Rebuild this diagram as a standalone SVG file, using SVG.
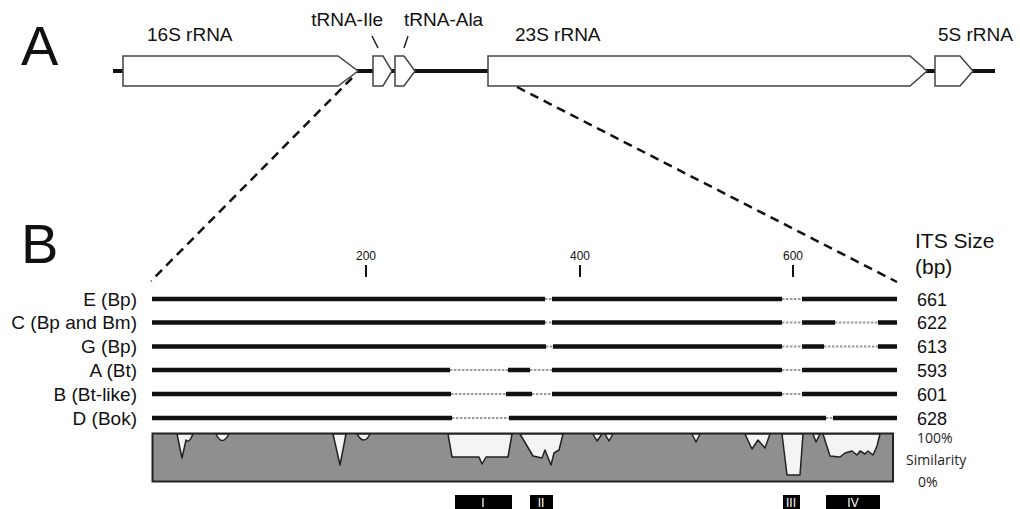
<svg xmlns="http://www.w3.org/2000/svg" width="1020" height="509" viewBox="0 0 1020 509">
<style>
text{font-family:"Liberation Sans",Arial,sans-serif;fill:#111}
.big{font-size:56px}
.lab{font-size:19px}
.num{font-size:18px}
.tick{font-size:12px}
.sim{font-family:"Open Sans","Liberation Sans",sans-serif;font-size:14px;fill:#222}
.box{fill:#fff;stroke:#444;stroke-width:1.5}
.solid{fill:none;stroke:#111;stroke-width:4.5}
.gap{fill:none;stroke:#999;stroke-width:2.2;stroke-dasharray:2.5 1.5}
.dash{fill:none;stroke:#111;stroke-width:2.5;stroke-dasharray:9 6}
.dip{fill:#f4f4f4;stroke:#222;stroke-width:1.5;stroke-linejoin:round}
.reg{fill:#000}
.rt{font-size:12px;fill:#fff;text-anchor:middle}
</style>
<rect width="1020" height="509" fill="#fff"/>

<g id="panelA">
  <text class="big" x="21" y="65">A</text>
  <line x1="113" y1="71" x2="995" y2="71" stroke="#111" stroke-width="4"/>
  <g id="n16S">
    <polygon class="box" points="123,56 338,56 358,71 338,86 123,86"/>
    <text class="lab" x="147" y="41">16S rRNA</text>
  </g>
  <g id="nIle">
    <polygon class="box" points="373,56 383,56 392,71 383,86 373,86"/>
    <text class="lab" x="383" y="26" text-anchor="end">tRNA-Ile</text>
    <line x1="372" y1="36" x2="378" y2="48" stroke="#222" stroke-width="1.5"/>
  </g>
  <g id="nAla">
    <polygon class="box" points="395,56 404,56 415,71 404,86 395,86"/>
    <text class="lab" x="404" y="26">tRNA-Ala</text>
    <line x1="408" y1="36" x2="404" y2="48" stroke="#222" stroke-width="1.5"/>
  </g>
  <g id="n23S">
    <polygon class="box" points="488,56 910,56 927,71 910,86 488,86"/>
    <text class="lab" x="515" y="41">23S rRNA</text>
  </g>
  <g id="n5S">
    <polygon class="box" points="935,56 960,56 973,71 960,86 935,86"/>
    <text class="lab" x="938" y="41">5S rRNA</text>
  </g>
</g>

<g id="connectors">
  <line class="dash" x1="352" y1="78" x2="151" y2="281"/>
  <line class="dash" x1="517" y1="87" x2="897" y2="282"/>
</g>

<g id="panelB">
  <text class="big" x="21" y="263">B</text>
  <g id="ticks">
    <line x1="366" y1="265" x2="366" y2="277" stroke="#111" stroke-width="2"/>
    <line x1="580" y1="265" x2="580" y2="277" stroke="#111" stroke-width="2"/>
    <line x1="793" y1="265" x2="793" y2="277" stroke="#111" stroke-width="2"/>
    <text class="tick" x="366" y="260" text-anchor="middle">200</text>
    <text class="tick" x="580" y="260" text-anchor="middle">400</text>
    <text class="tick" x="793" y="260" text-anchor="middle">600</text>
  </g>
  <text x="915" y="248" style="font-size:21px">ITS Size</text>
  <text x="915" y="274" style="font-size:21px">(bp)</text>

  <g id="rowE">
    <text class="lab" x="137" y="305.5" text-anchor="end">E (Bp)</text>
    <path class="solid" d="M152,299H545M552,299H782M802,299H897"/>
    <path class="gap" d="M545,299H552M782,299H802"/>
    <text class="num" x="917" y="305.5">661</text>
  </g>
  <g id="rowC">
    <text class="lab" x="137" y="329" text-anchor="end">C (Bp and Bm)</text>
    <path class="solid" d="M152,322.5H545M552,322.5H782M802,322.5H835M878,322.5H897"/>
    <path class="gap" d="M545,322.5H552M782,322.5H802M835,322.5H878"/>
    <text class="num" x="917" y="329">622</text>
  </g>
  <g id="rowG">
    <text class="lab" x="137" y="353" text-anchor="end">G (Bp)</text>
    <path class="solid" d="M152,346.5H546M553,346.5H782M802,346.5H824M878,346.5H897"/>
    <path class="gap" d="M546,346.5H553M782,346.5H802M824,346.5H878"/>
    <text class="num" x="917" y="353">613</text>
  </g>
  <g id="rowA">
    <text class="lab" x="137" y="376.5" text-anchor="end">A (Bt)</text>
    <path class="solid" d="M152,370H450M508,370H530M552,370H782M802,370H897"/>
    <path class="gap" d="M450,370H508M530,370H552M782,370H802"/>
    <text class="num" x="917" y="376.5">593</text>
  </g>
  <g id="rowB">
    <text class="lab" x="137" y="400.5" text-anchor="end">B (Bt-like)</text>
    <path class="solid" d="M152,394H451M506,394H532M552,394H782M802,394H897"/>
    <path class="gap" d="M451,394H506M532,394H552M782,394H802"/>
    <text class="num" x="917" y="400.5">601</text>
  </g>
  <g id="rowD">
    <text class="lab" x="137" y="424.5" text-anchor="end">D (Bok)</text>
    <path class="solid" d="M152,418H452M509,418H826M833,418H897"/>
    <path class="gap" d="M452,418H509M826,418H833"/>
    <text class="num" x="917" y="424.5">628</text>
  </g>

  <g id="similarity">
    <rect x="152.5" y="433.5" width="740.5" height="48" fill="#8f8f8f" stroke="#222" stroke-width="2"/>
    <path class="dip" d="M177,434L182,458L186,440Q189,444 193,434Z"/>
    <path class="dip" d="M216,434Q222,447 229,434Z"/>
    <path class="dip" d="M333,434L340,465L346,434Z"/>
    <path class="dip" d="M357,434Q364,446 370,434Z"/>
    <path class="dip" d="M448,434L452,457L479,457L482,464L486,457L508,457L512,434Z"/>
    <path class="dip" d="M520,434L533,456L542,458L545,450L551,465L554,453L559,450L563,434Z"/>
    <path class="dip" d="M593,434L597,441L602,434Z"/>
    <path class="dip" d="M605,434L609,441L613,434Z"/>
    <path class="dip" d="M692,434L696,442L700,434Z"/>
    <path class="dip" d="M745,434L752,449L758,440L765,448L770,434Z"/>
    <path class="dip" d="M782,434L787,475L800,475L803,434Z"/>
    <path class="dip" d="M813,434L816,442L820,434Z"/>
    <path class="dip" d="M823,434L830,456L840,457L845,453L852,451L857,455L860,451L865,454L868,451L873,455L877,446L880,434Z"/>
    <text class="sim" x="917" y="443">100%</text>
    <text class="sim" x="906" y="465">Similarity</text>
    <text class="sim" x="918" y="487">0%</text>
  </g>

  <g id="regions">
    <rect class="reg" x="455" y="495" width="57" height="14"/>
    <text class="rt" x="483" y="507">I</text>
    <rect class="reg" x="530" y="495" width="23" height="14"/>
    <text class="rt" x="541" y="507">II</text>
    <rect class="reg" x="783" y="495" width="17" height="14"/>
    <text class="rt" x="791" y="507">III</text>
    <rect class="reg" x="826" y="495" width="54" height="14"/>
    <text class="rt" x="853" y="507">IV</text>
  </g>
</g>
</svg>
